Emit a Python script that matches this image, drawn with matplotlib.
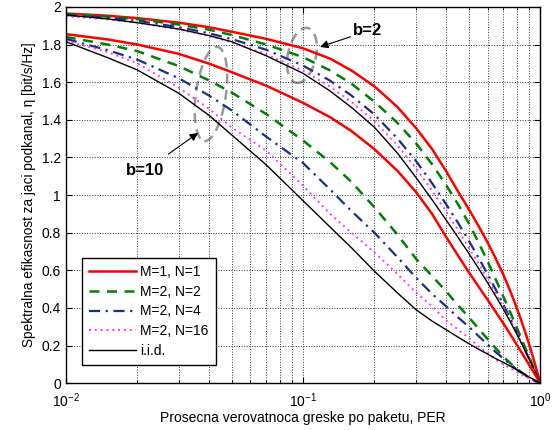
import matplotlib
matplotlib.use('Agg')
from matplotlib import pyplot as plt
from matplotlib.patches import Ellipse
from matplotlib.transforms import ScaledTranslation
from matplotlib.ticker import FixedLocator, FormatStrFormatter, LogLocator

plt.rcParams['font.family'] = ['Liberation Sans', 'DejaVu Sans']
plt.rcParams['mathtext.fontset'] = 'custom'
plt.rcParams['mathtext.rm'] = 'Liberation Sans'
plt.rcParams['mathtext.it'] = 'Liberation Sans:italic'

per = [0.01, 0.015, 0.02, 0.03, 0.04, 0.05, 0.07, 0.1, 0.13, 0.16, 0.2, 0.25, 0.3, 0.35,
       0.4, 0.45, 0.5, 0.55, 0.6, 0.65, 0.7, 0.75, 0.8, 0.85, 0.9, 0.95, 1.0]

# b=2 curves
b2_m1n1 = [1.965, 1.953, 1.940, 1.916, 1.892, 1.868, 1.830, 1.780, 1.725, 1.662, 1.578, 1.468, 1.355, 1.245,
           1.130, 1.020, 0.925, 0.835, 0.748, 0.662, 0.576, 0.486, 0.394, 0.300, 0.204, 0.104, 0]
b2_m2n2 = [1.962, 1.948, 1.935, 1.906, 1.879, 1.851, 1.800, 1.733, 1.662, 1.592, 1.496, 1.384, 1.274, 1.164,
           1.056, 0.952, 0.850, 0.747, 0.648, 0.551, 0.459, 0.373, 0.290, 0.212, 0.138, 0.068, 0]
b2_m2n4 = [1.957, 1.942, 1.926, 1.892, 1.860, 1.829, 1.772, 1.688, 1.608, 1.529, 1.428, 1.301, 1.180, 1.063,
           0.954, 0.853, 0.758, 0.666, 0.580, 0.497, 0.417, 0.340, 0.266, 0.195, 0.127, 0.062, 0]
b2_m2n16 = [1.950, 1.934, 1.916, 1.880, 1.846, 1.813, 1.748, 1.661, 1.576, 1.495, 1.392, 1.264, 1.141, 1.024,
            0.915, 0.814, 0.720, 0.635, 0.554, 0.478, 0.405, 0.334, 0.264, 0.196, 0.129, 0.064, 0]
b2_iid = [1.957, 1.936, 1.916, 1.882, 1.848, 1.815, 1.740, 1.647, 1.553, 1.466, 1.360, 1.223, 1.092, 0.975,
          0.870, 0.776, 0.690, 0.610, 0.534, 0.462, 0.392, 0.324, 0.257, 0.191, 0.127, 0.063, 0]

# b=10 curves
b10_m1n1 = [1.855, 1.827, 1.800, 1.750, 1.699, 1.653, 1.581, 1.490, 1.414, 1.340, 1.244, 1.129, 1.015, 0.900,
            0.780, 0.679, 0.590, 0.513, 0.444, 0.378, 0.317, 0.258, 0.201, 0.147, 0.096, 0.047, 0]
b10_m2n2 = [1.840, 1.800, 1.765, 1.685, 1.610, 1.545, 1.430, 1.290, 1.175, 1.070, 0.935, 0.790, 0.660, 0.570,
            0.490, 0.415, 0.350, 0.290, 0.235, 0.185, 0.140, 0.105, 0.075, 0.050, 0.030, 0.013, 0]
b10_m2n4 = [1.830, 1.770, 1.720, 1.620, 1.530, 1.450, 1.310, 1.170, 1.030, 0.915, 0.800, 0.670, 0.560, 0.475,
            0.410, 0.350, 0.300, 0.250, 0.205, 0.165, 0.130, 0.100, 0.070, 0.047, 0.028, 0.012, 0]
b10_m2n16 = [1.820, 1.760, 1.700, 1.570, 1.460, 1.360, 1.235, 1.050, 0.900, 0.800, 0.695, 0.580, 0.480, 0.410,
             0.335, 0.285, 0.240, 0.195, 0.160, 0.125, 0.100, 0.078, 0.058, 0.040, 0.024, 0.010, 0]
b10_iid = [1.815, 1.730, 1.665, 1.540, 1.425, 1.320, 1.160, 0.970, 0.830, 0.720, 0.595, 0.480, 0.390, 0.330,
           0.285, 0.245, 0.210, 0.180, 0.155, 0.130, 0.110, 0.090, 0.070, 0.050, 0.032, 0.015, 0]

labels = ['M=1, N=1', 'M=2, N=2', 'M=2, N=4', 'M=2, N=16', 'i.i.d.']
yticks = [0, 0.2, 0.4, 0.6, 0.8, 1, 1.2, 1.4, 1.6, 1.8, 2]

fig = plt.figure(figsize=(5.58, 4.30), dpi=100)
ax = fig.add_axes([0.118, 0.109, 0.850, 0.875])

red = dict(color='#ff0000', lw=1.8, ls='-')
green = dict(color='#008000', lw=1.8, dashes=(4, 3))
blue = dict(color='#1a2f85', lw=1.6, dashes=(5, 2.5, 1, 2.5))
mag = dict(color='#ff33ff', lw=1.4, dashes=(1, 2))
blk = dict(color='black', lw=1.0, ls='-')

ax.plot(per, b2_m1n1, label=labels[0], **red)
ax.plot(per, b2_m2n2, label=labels[1], **green)
ax.plot(per, b2_m2n4, label=labels[2], **blue)
ax.plot(per, b2_m2n16, label=labels[3], **mag)
ax.plot(per, b2_iid, label=labels[4], **blk)

ax.plot(per, b10_m1n1, **red)
ax.plot(per, b10_m2n2, **green)
ax.plot(per, b10_m2n4, **blue)
ax.plot(per, b10_m2n16, **mag)
ax.plot(per, b10_iid, **blk)

ax.set_xscale('log')
ax.set_xlim(0.01, 1)
ax.set_ylim(0, 2)
ax.yaxis.set_major_locator(FixedLocator(yticks))
ax.yaxis.set_major_formatter(FormatStrFormatter('%g'))
ax.xaxis.set_minor_locator(LogLocator(base=10, subs=range(2, 10)))
ax.tick_params(which='both', direction='in', top=True, right=True, labelsize=10)
ax.tick_params(which='major', length=4)
ax.tick_params(which='minor', length=2)
ax.tick_params(axis='x', which='major', pad=6)
ax.grid(True, which='major', color='#333333', ls=':', lw=0.7)
ax.grid(True, which='minor', axis='x', color='#333333', ls=':', lw=0.7)
for s in ax.spines.values():
    s.set_linewidth(1.0)

ax.set_xlabel('Prosecna verovatnoca greske po paketu, PER', fontsize=10, labelpad=1)
ax.set_ylabel('Spektralna efikasnost za jaci podkanal, \u03b7 [bit/s/Hz]', fontsize=9.8, labelpad=4)

# ellipses marking the two groups (size in inches, centred at data points)
e1 = Ellipse((0, 0), 0.28, 0.56, angle=-12, fill=False, ec='#999999', lw=1.8, ls=(0, (4, 2.5)),
             transform=fig.dpi_scale_trans + ScaledTranslation(0.099, 1.742, ax.transData))
e2 = Ellipse((0, 0), 0.30, 0.95, angle=-8, fill=False, ec='#999999', lw=1.8, ls=(0, (4, 2.5)),
             transform=fig.dpi_scale_trans + ScaledTranslation(0.0409, 1.537, ax.transData))
ax.add_patch(e1)
ax.add_patch(e2)

ax.annotate('b=2', xy=(0.118, 1.787), xytext=(0.163, 1.872), fontsize=12, fontweight='bold',
            va='center', ha='left',
            arrowprops=dict(arrowstyle='-|>', color='black', lw=0.8, mutation_scale=12, shrinkA=0, shrinkB=0))
ax.annotate('b=10', xy=(0.0361, 1.33), xytext=(0.02154, 1.128), fontsize=12, fontweight='bold',
            va='center', ha='center',
            arrowprops=dict(arrowstyle='-|>', color='black', lw=0.8, mutation_scale=12, shrinkA=8, shrinkB=0))

leg = ax.legend(loc='lower left', bbox_to_anchor=(0.034, 0.048), fontsize=10, fancybox=False,
                edgecolor='black', framealpha=1, borderaxespad=0, handlelength=3.4, labelspacing=0.42,
                borderpad=0.5, handletextpad=0.3)
leg.get_frame().set_linewidth(1.0)

fig.savefig('out.png', dpi=100)
